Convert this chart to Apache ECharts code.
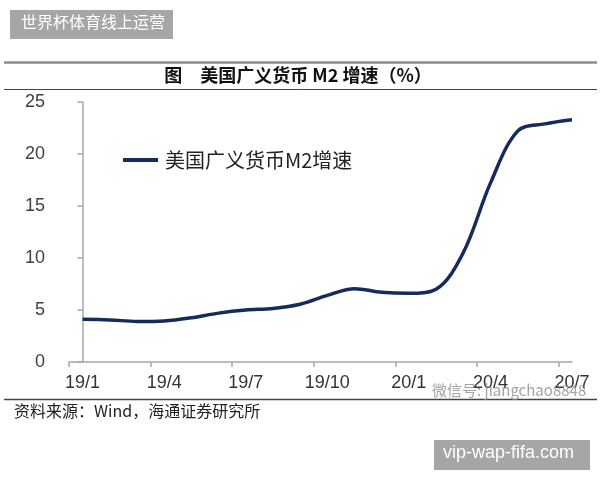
<!DOCTYPE html>
<html>
<head>
<meta charset="utf-8">
<script src="https://cdn.jsdelivr.net/npm/echarts@6/dist/echarts.min.js"></script>
<style>
html,body{margin:0;padding:0;background:#fff;}
#chart{width:600px;height:480px;}
</style>
</head>
<body>
<div id="chart"></div>
<script>
// ---- data ----
var months = ['19/1','19/2','19/3','19/4','19/5','19/6','19/7','19/8','19/9','19/10','19/11','19/12','20/1','20/2','20/3','20/4','20/5','20/6','20/7'];
var m2Growth = [4.1, 4.05, 3.9, 3.95, 4.25, 4.7, 5.0, 5.15, 5.55, 6.4, 7.05, 6.7, 6.6, 7.0, 10.5, 17.2, 22.2, 22.9, 23.3];
var xTickLabels = ['19/1','19/4','19/7','19/10','20/1','20/4','20/7'];
var yTicks = [0, 5, 10, 15, 20, 25];
var seriesName = '美国广义货币M2增速';
var titleText = '图　美国广义货币 M2 增速（%）';
var sourceText = '资料来源：Wind，海通证券研究所';
var watermarkText = '微信号: jiangchao8848';
var topBadge = '世界杯体育线上运营';
var bottomBadge = 'vip-wap-fifa.com';

// positions of labelled months and month-boundary ticks
var labelIdx = xTickLabels.map(function (l) { return months.indexOf(l); });
var tickVals = labelIdx.map(function (i) { return i - 0.5; });

var chart = echarts.init(document.getElementById('chart'), null, {renderer: 'canvas'});
var option = {
  backgroundColor: '#ffffff',
  animation: false,
  title: {
    text: titleText,
    left: 298,
    textAlign: 'center',
    top: 66,
    padding: 0,
    textStyle: {fontFamily: 'Noto Sans CJK SC', fontSize: 18, fontWeight: 'bold', color: '#111'}
  },
  legend: {
    data: [{name: seriesName, icon: 'rect'}],
    left: 123,
    top: 150,
    padding: 0,
    itemWidth: 35,
    itemHeight: 4,
    textStyle: {fontFamily: 'Noto Sans CJK SC', fontSize: 20, color: '#222', padding: [0, 0, 0, 2]}
  },
  grid: {left: 69, right: 28, top: 102, bottom: 118},
  xAxis: {
    type: 'value',
    min: -0.5,
    max: months.length - 1,
    axisLine: {show: true, lineStyle: {color: '#a6a6a6', width: 1.5}},
    axisTick: {show: true, length: 5, customValues: tickVals, lineStyle: {color: '#a6a6a6', width: 1.5}},
    splitLine: {show: false},
    axisLabel: {
      customValues: labelIdx,
      showMaxLabel: true,
      showMinLabel: true,
      margin: 12,
      fontFamily: 'Liberation Sans',
      fontSize: 18,
      color: '#333',
      formatter: function (v) { return months[Math.round(v)]; }
    }
  },
  yAxis: {
    type: 'value',
    min: yTicks[0],
    max: yTicks[yTicks.length - 1],
    interval: yTicks[1] - yTicks[0],
    axisLine: {show: true, lineStyle: {color: '#a6a6a6', width: 1.5}},
    axisTick: {show: true, length: 5, lineStyle: {color: '#a6a6a6', width: 1.5}},
    splitLine: {show: false},
    axisLabel: {margin: 24, fontFamily: 'Liberation Sans', fontSize: 18, color: '#404040'}
  },
  series: [{
    name: seriesName,
    type: 'line',
    data: m2Growth.map(function (v, i) { return [i, v]; }),
    smooth: 0.35,
    showSymbol: false,
    symbol: 'none',
    lineStyle: {color: '#172a5c', width: 3.5},
    itemStyle: {color: '#172a5c'}
  }],
  graphic: [
    {type: 'rect', shape: {x: 10, y: 10, width: 163, height: 29}, style: {fill: '#a6a6a6'}},
    {type: 'text', left: 21, top: 14, style: {text: topBadge, fill: '#ffffff', font: '16px "Noto Sans CJK SC"'}},
    {type: 'line', shape: {x1: 4, y1: 62.5, x2: 597, y2: 62.5}, style: {stroke: '#8c8c8c', lineWidth: 2.5}},
    {type: 'line', shape: {x1: 4, y1: 89.5, x2: 597, y2: 89.5}, style: {stroke: '#444', lineWidth: 1}},
    {type: 'line', shape: {x1: 4, y1: 399.5, x2: 597, y2: 399.5}, style: {stroke: '#444', lineWidth: 1.5}},
    {type: 'text', left: 14, top: 403, style: {text: sourceText, fill: '#222', font: '16px "Noto Sans CJK SC"'}},
    {type: 'text', left: 432, top: 383, z: 10, style: {text: watermarkText, fill: 'rgba(140,140,140,0.8)', font: '15px "Noto Sans CJK SC"'}},
    {type: 'rect', shape: {x: 434, y: 440, width: 156, height: 30}, style: {fill: '#a6a6a6'}},
    {type: 'text', left: 443, top: 444, style: {text: bottomBadge, fill: '#ffffff', font: '18px "Liberation Sans"'}}
  ]
};
chart.setOption(option);
</script>
</body>
</html>
